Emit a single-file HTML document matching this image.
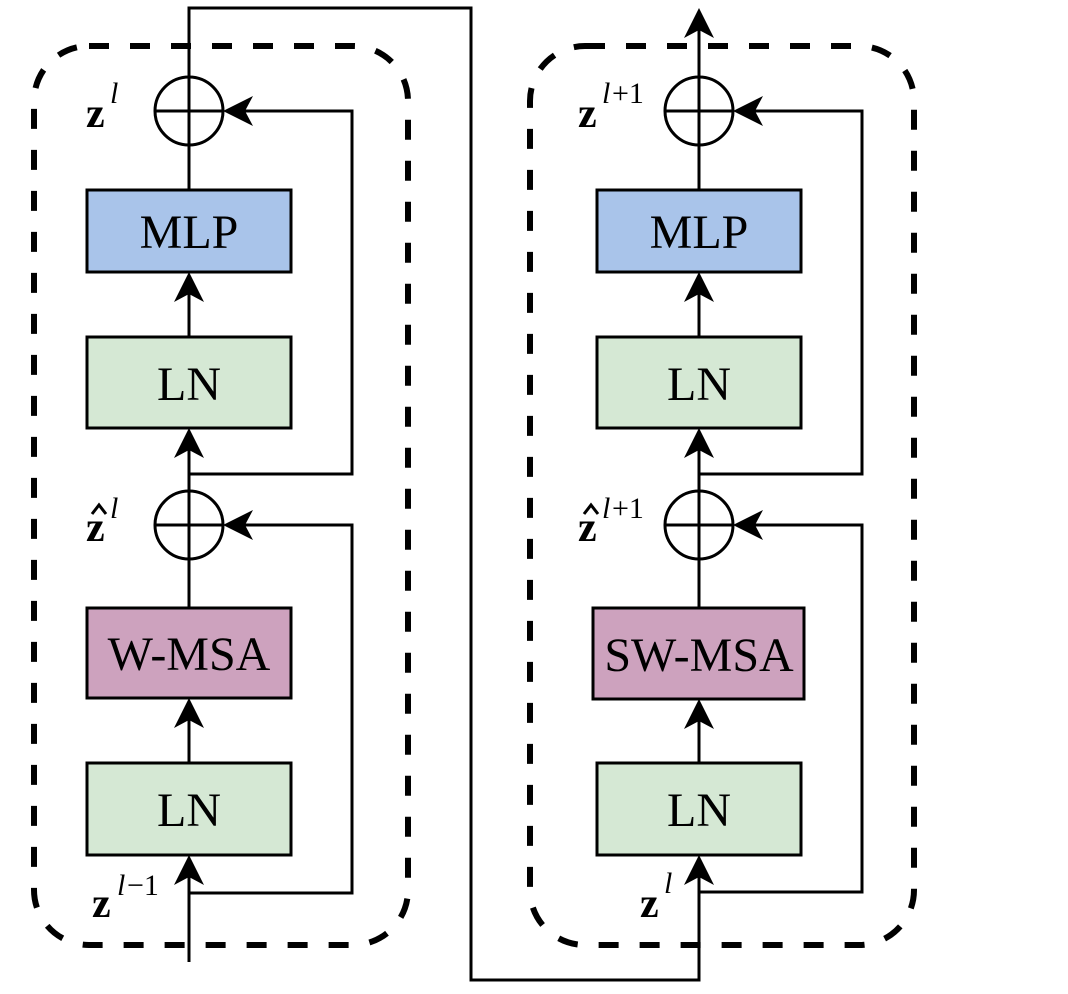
<!DOCTYPE html>
<html><head><meta charset="utf-8"><style>
html,body{margin:0;padding:0;background:#fff;}
svg{display:block;}
.t{font-family:"Liberation Serif",serif;font-size:48px;text-anchor:middle;}
.m{font-family:"Liberation Serif",serif;font-weight:bold;font-size:42px;}
.s{font-family:"Liberation Serif",serif;font-style:italic;font-size:30px;}
.n{font-family:"Liberation Serif",serif;font-size:30px;}
</style></head><body>
<svg width="1068" height="994" viewBox="0 0 1068 994" xmlns="http://www.w3.org/2000/svg">
<g fill="none" stroke="#000" stroke-width="6" stroke-dasharray="20 21">
<rect x="34" y="46" width="374" height="899" rx="55"/>
<rect x="530" y="46" width="384" height="899" rx="55"/>
</g>
<g fill="none" stroke="#000" stroke-width="3">
<!-- left -->
<polyline points="189,962 189,865"/>
<polyline points="189,893 352,893 352,525 228,525"/>
<line x1="189" y1="763" x2="189" y2="706"/>
<line x1="189" y1="608" x2="189" y2="491"/>
<line x1="189" y1="559" x2="189" y2="436"/>
<polyline points="189,474 352,474 352,111 228,111"/>
<line x1="189" y1="337" x2="189" y2="280"/>
<polyline points="189,190 189,8 471,8 471,980 699,980 699,865"/>
<circle cx="189" cy="111" r="34"/><line x1="155" y1="111" x2="223" y2="111"/>
<circle cx="189" cy="525" r="34"/><line x1="155" y1="525" x2="223" y2="525"/>
<!-- right -->
<polyline points="699,892 862,892 862,525 738,525"/>
<line x1="699" y1="763" x2="699" y2="706"/>
<line x1="699" y1="608" x2="699" y2="436"/>
<polyline points="699,474 862,474 862,111 738,111"/>
<line x1="699" y1="337" x2="699" y2="280"/>
<line x1="699" y1="190" x2="699" y2="20"/>
<circle cx="699" cy="111" r="34"/><line x1="665" y1="111" x2="733" y2="111"/>
<circle cx="699" cy="525" r="34"/><line x1="665" y1="525" x2="733" y2="525"/>
</g>
<g stroke="#000" stroke-width="3">
<rect x="87" y="190" width="204" height="82" fill="#a9c4ea"/>
<rect x="87" y="337" width="204" height="91" fill="#d5e8d4"/>
<rect x="87" y="608" width="204" height="90" fill="#cda2be"/>
<rect x="87" y="763" width="204" height="92" fill="#d5e8d4"/>
<rect x="597" y="190" width="204" height="82" fill="#a9c4ea"/>
<rect x="597" y="337" width="204" height="91" fill="#d5e8d4"/>
<rect x="593" y="608" width="211" height="91" fill="#cda2be"/>
<rect x="597" y="763" width="204" height="92" fill="#d5e8d4"/>
</g>
<g fill="#000">
<path d="M189,272 l-15,30 l15,-8 l15,8z"/>
<path d="M189,428 l-15,30 l15,-8 l15,8z"/>
<path d="M189,698 l-15,30 l15,-8 l15,8z"/>
<path d="M189,855 l-15,30 l15,-8 l15,8z"/>
<path d="M699,272 l-15,30 l15,-8 l15,8z"/>
<path d="M699,428 l-15,30 l15,-8 l15,8z"/>
<path d="M699,699 l-15,30 l15,-8 l15,8z"/>
<path d="M699,855 l-15,30 l15,-8 l15,8z"/>
<path d="M699,8 l-15,30 l15,-8 l15,8z"/>
<path d="M223,111 l30,-15 l-8,15 l8,15z"/>
<path d="M223,525 l30,-15 l-8,15 l8,15z"/>
<path d="M733,111 l30,-15 l-8,15 l8,15z"/>
<path d="M733,525 l30,-15 l-8,15 l8,15z"/>
</g>
<g fill="#000">
<text class="t" x="189" y="248">MLP</text>
<text class="t" x="189" y="400">LN</text>
<text class="t" x="189" y="670">W-MSA</text>
<text class="t" x="189" y="826">LN</text>
<text class="t" x="699" y="248">MLP</text>
<text class="t" x="699" y="400">LN</text>
<text class="t" x="699" y="671">SW-MSA</text>
<text class="t" x="699" y="826">LN</text>
<text class="m" x="86" y="127">z</text><text class="s" x="110" y="103">l</text>
<text class="m" x="86" y="541">z</text><path d="M92,514 l7,-9 l7,9" fill="none" stroke="#000" stroke-width="3"/><text class="s" x="110" y="518">l</text>
<text class="m" x="92" y="917">z</text><text class="s" x="117" y="895">l</text><text class="n" x="127" y="895">−1</text>
<text class="m" x="578" y="127">z</text><text class="s" x="602" y="103">l</text><text class="n" x="612" y="103">+1</text>
<text class="m" x="578" y="541">z</text><path d="M584,514 l7,-9 l7,9" fill="none" stroke="#000" stroke-width="3"/><text class="s" x="602" y="518">l</text><text class="n" x="612" y="518">+1</text>
<text class="m" x="640" y="917">z</text><text class="s" x="664" y="893">l</text>
</g>
</svg>
</body></html>
